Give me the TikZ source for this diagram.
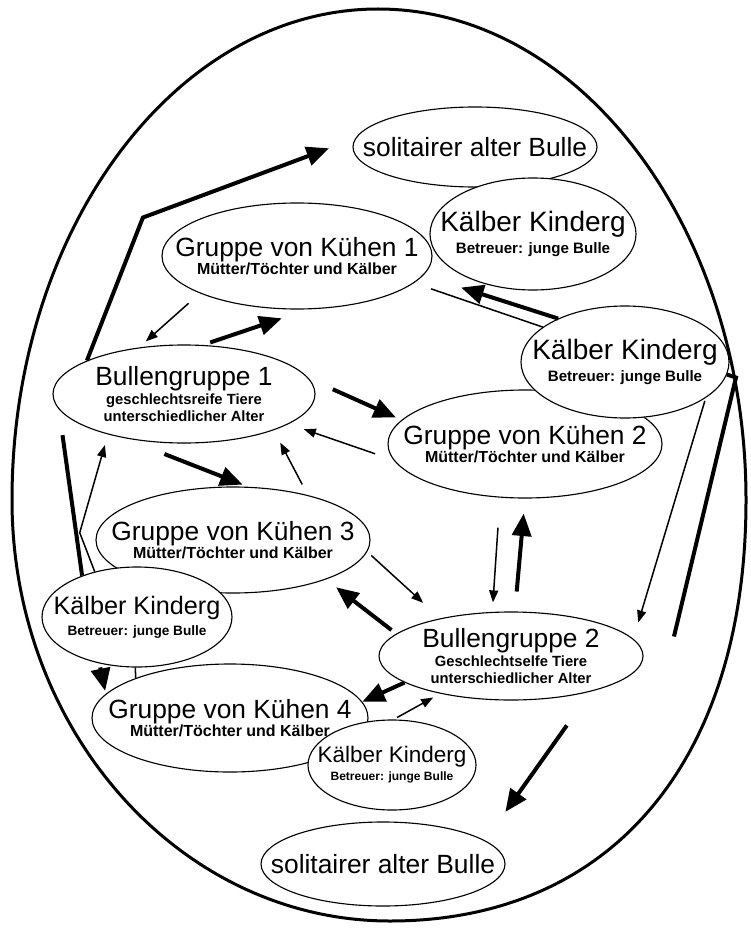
\documentclass[tikz,border=0pt]{standalone}
\usepackage{fontspec}
\setmainfont{Liberation Sans}
\usetikzlibrary{shapes.geometric, arrows.meta}

\newcommand{\kopf}[2]{{\mdseries\fontsize{#1}{#1}\selectfont #2}}

\begin{document}
\begin{tikzpicture}[
x=0.4mm, y=-0.4mm,
ring/.style={ellipse, draw=black, line width=0.45mm, fill=white, inner xsep=-12mm, inner ysep=0pt, align=center},
radii/.style 2 args={minimum width=#1*0.8mm, minimum height=#2*0.8mm},
herd/.style={ring, font=\bfseries\fontsize{18.2}{20.5}\selectfont},
bulls/.style={ring, font=\bfseries\fontsize{16.8}{19.4}\selectfont},
nursery/.style={ring, font=\bfseries\fontsize{17.2}{25.5}\selectfont},
loner/.style={ring, font=\fontsize{30}{30}\selectfont},
thinarr/.style={line width=0.6mm, -{Triangle[length=4.8mm, width=3.6mm]}},
thickarr/.style={line width=1.6mm, -{Triangle[length=9mm, width=7.6mm]}},
thinline/.style={line width=0.6mm},
thickline/.style={line width=1.6mm},
]
\useasboundingbox (0,0) rectangle (751,928);

% Outer border (herd area)
\draw[line width=1.2mm] (378,9) .. controls (581,9) and (746,229) .. (746,500)
  .. controls (746,761) and (611,921) .. (390,921)
  .. controls (181,921) and (12,732) .. (12,500)
  .. controls (12,229) and (176,9) .. cycle;

% Group positions
\coordinate (top) at (475,147);      % Top loner
\coordinate (nurs1) at (533,234);    % Nursery top right
\coordinate (cows1) at (297,256);    % Cows 1
\coordinate (cows2) at (525,444);    % Cows 2
\coordinate (nurs2) at (625,362);    % Nursery right
\coordinate (bg1) at (184,394);      % Bulls 1
\coordinate (cows3) at (233,540);    % Cows 3
\coordinate (nurs3) at (137,617);    % Nursery left
\coordinate (bg2) at (511,656);      % Bulls 2
\coordinate (cows4) at (230,718);    % Cows 4
\coordinate (nurs4) at (392,765);    % Nursery bottom
\coordinate (bottom) at (383,864);   % Bottom loner

% Nodes at group positions
\node[loner, radii={122}{40}] (sol1) at (top) {solitairer alter Bulle};
\node[nursery, radii={103}{56}] (kk1) at (nurs1) {\kopf{31.9}{Kälber Kinderg}\\Betreuer: junge Bulle};
\node[herd, radii={135}{53}] (kuh1) at (cows1) {\kopf{30}{Gruppe von Kühen 1}\\Mütter/Töchter und Kälber};
\node[herd, radii={137}{54}] (kuh2) at (cows2) {\kopf{30}{Gruppe von Kühen 2}\\Mütter/Töchter und Kälber};
\node[nursery, radii={104}{56}] (kk2) at (nurs2) {\kopf{31.9}{Kälber Kinderg}\\Betreuer: junge Bulle};
\node[bulls, radii={131}{49}] (bull1) at (bg1) {\kopf{30}{Bullengruppe 1}\\[2.6pt]geschlechtsreife Tiere\\unterschiedlicher Alter};
\node[herd, radii={137}{53}] (kuh3) at (cows3) {\kopf{30}{Gruppe von Kühen 3}\\Mütter/Töchter und Kälber};
\node[nursery, radii={95}{50}, font=\bfseries\fontsize{15.5}{24}\selectfont] (kk3) at (nurs3) {\kopf{28.7}{Kälber Kinderg}\\Betreuer: junge Bulle};
\node[bulls, radii={132}{44}] (bull2) at (bg2) {\kopf{30}{Bullengruppe 2}\\[2.6pt]Geschlechtselfe Tiere\\unterschiedlicher Alter};
\node[herd, radii={138}{54}] (kuh4) at (cows4) {\kopf{30}{Gruppe von Kühen 4}\\Mütter/Töchter und Kälber};
\node[nursery, radii={84}{45}, font=\bfseries\fontsize{13.7}{20.5}\selectfont] (kk4) at (nurs4) {\kopf{25.6}{Kälber Kinderg}\\Betreuer: junge Bulle};
\node[loner, radii={122}{42}] (sol2) at (bottom) {solitairer alter Bulle};

% Moves between groups
\draw[thickarr, shorten >=11.1mm] (bull1.161) -- ++(56,-143) -- (sol1.176);
\draw[thinarr, shorten <=6mm, shorten >=3.6mm] (kuh1.201) -- (bull1.134);
\draw[thickarr, shorten <=3.1mm, shorten >=11.2mm] (bull1.69) -- (kuh1.282);
\draw[thinline, shorten <=7.2mm] (kuh1.347) -- (kk2.157);
\draw[thickarr] (kk2.147) -- ++(-97,-31);
\draw[thickarr, shorten <=10.4mm, shorten >=2.4mm] (bull1.7) -- (kuh2.169);
\draw[thinarr, shorten <=7.8mm, shorten >=6.4mm] (kuh2.187) -- (bull1.344);
\draw[thickarr, shorten <=17.6mm, shorten >=2.4mm] (bull1.216) -- (kuh3.74);
\draw[thinarr, shorten <=4.8mm, shorten >=5.6mm] (kuh3.31) -- (bull1.338);
\draw[thinarr, shorten >=4.4mm] (kk3.133) -- ++(-15,-39) -- (bull1.208);
\draw[thickline, shorten <=10.4mm] (bull1.187) -- (kk3.143);
\draw[thickarr, shorten <=1.6mm, shorten >=1.2mm] (kk3.231) -- (kuh4.169);
\draw[thinline] (kk3.268) -- (kuh4.157);
\draw[thinarr, shorten <=2.2mm, shorten >=9.2mm] (kuh3.355) -- (bull2.152);
\draw[thickarr, shorten <=2.4mm, shorten >=5.1mm] (bull2.169) -- (kuh3.337);
\draw[thinarr, shorten <=12mm, shorten >=3.8mm] (kuh2.245) -- (bull2.113);
\draw[thickarr, shorten <=8mm, shorten >=6mm] (bull2.85) -- (kuh2.270);
\draw[thinarr, shorten <=1.2mm, shorten >=6.8mm] (kk2.336) -- (bull2.8);
\draw[thickline] (kk2.353) -- ++(9,3) -- ++(-62,259);
\draw[thickarr] (bull2.194) -- (kuh4.7);
\draw[thinarr, shorten <=1.6mm, shorten >=3.2mm] (kk4.88) -- (bull2.208);
\draw[thickarr, shorten <=16.6mm, shorten >=14mm] (bull2.336) -- (sol2.13);

\end{tikzpicture}
\end{document}
